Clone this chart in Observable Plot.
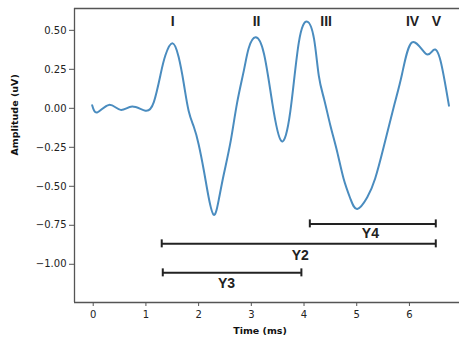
<!DOCTYPE html>
<html>
<head>
<meta charset="utf-8">
<script src="https://cdn.jsdelivr.net/npm/d3@7"></script>
<script src="https://cdn.jsdelivr.net/npm/@observablehq/plot@0.6"></script>
<style>
  html, body { margin: 0; padding: 0; background: #fff; }
  #chart svg { display: block; }
</style>
</head>
<body>
<div id="chart"></div>
<script>
// Waveform samples (time in ms, amplitude in uV)
const time = [-0.02, 0.08, 0.30, 0.52, 0.74, 0.99, 1.15, 1.28, 1.37, 1.50, 1.62, 1.72, 1.81, 1.91, 2.00, 2.10, 2.19, 2.29, 2.38, 2.48, 2.61, 2.73, 2.86, 2.95, 3.08, 3.24, 3.40, 3.57, 3.74, 3.90, 4.06, 4.19, 4.28, 4.38, 4.50, 4.63, 4.75, 4.88, 5.01, 5.20, 5.35, 5.51, 5.70, 5.86, 6.05, 6.31, 6.46, 6.59, 6.75];
const amp  = [0.02, -0.026, 0.022, -0.01, 0.011, -0.015, 0.04, 0.22, 0.34, 0.417, 0.33, 0.156, -0.015, -0.12, -0.23, -0.40, -0.57, -0.683, -0.59, -0.42, -0.207, 0.035, 0.245, 0.385, 0.455, 0.35, 0.03, -0.21, -0.02, 0.42, 0.556, 0.445, 0.21, 0.06, -0.11, -0.28, -0.45, -0.58, -0.645, -0.57, -0.45, -0.25, 0.006, 0.22, 0.423, 0.35, 0.375, 0.305, 0.017];

// Peak labels
const peakNames = ["I", "II", "III", "IV", "V"];
const peakX = [1.51, 3.10, 4.42, 6.06, 6.51];
const peakY = [0.559, 0.559, 0.559, 0.559, 0.559];

// Interval brackets
const bracketNames = ["Y4", "Y2", "Y3"];
const bracketStart = [4.11, 1.30, 1.32];
const bracketEnd = [6.50, 6.50, 3.95];
const bracketLevel = [-0.741, -0.869, -1.055];
const bracketLabelX = [5.26, 3.93, 2.53];
const bracketLabelY = [-0.805, -0.945, -1.125];

// Axis ticks
const xTicks = [0, 1, 2, 3, 4, 5, 6];
const yTicks = [0.5, 0.25, 0, -0.25, -0.5, -0.75, -1.0];
const xDomain = [-0.355, 6.95];
const yDomain = [-1.245, 0.64];

const wave = time.map((t, i) => ({t, a: amp[i]}));
const peaks = peakNames.map((n, i) => ({n, x: peakX[i], y: peakY[i]}));
const brackets = bracketNames.map((n, i) => ({n, x1: bracketStart[i], x2: bracketEnd[i], y: bracketLevel[i], lx: bracketLabelX[i], ly: bracketLabelY[i]}));
const caps = brackets.flatMap(b => [{x: b.x1, y: b.y}, {x: b.x2, y: b.y}]);

const fmt = d => d3.format(".2f")(d).replace("-", "\u2212");

const chart = Plot.plot({
  width: 459,
  height: 343,
  marginLeft: 74,
  marginRight: 0,
  marginTop: 8,
  marginBottom: 41,
  style: {fontFamily: "DejaVu Sans", fontSize: "10px", color: "#222", background: "#fff"},
  x: {domain: xDomain, ticks: xTicks, tickFormat: d => String(d), label: null},
  y: {domain: yDomain, ticks: yTicks, tickFormat: fmt, label: null},
  marks: [
    Plot.axisX({ticks: xTicks, tickFormat: d => String(d), tickSize: 4, tickPadding: 4, stroke: "#555", label: null, fontSize: 10}),
    Plot.axisY({ticks: yTicks, tickFormat: fmt, tickSize: 5, tickPadding: 3, stroke: "#555", label: null, fontSize: 10}),
    // spines
    Plot.ruleX([xDomain[0]], {stroke: "#555", strokeWidth: 1.3}),
    Plot.ruleY(yDomain, {stroke: "#555", strokeWidth: 1.3}),
    // waveform
    Plot.line(wave, {x: "t", y: "a", curve: "natural", stroke: "#4a8cbf", strokeWidth: 2}),
    // brackets
    Plot.ruleY(brackets, {y: "y", x1: "x1", x2: "x2", stroke: "#222", strokeWidth: 2}),
    Plot.ruleX(caps, {x: "x", y1: "y", y2: "y", insetTop: -4, insetBottom: -4, stroke: "#222", strokeWidth: 2}),
    Plot.text(brackets, {x: "lx", y: "ly", text: "n", fontFamily: "Liberation Sans", fontWeight: "bold", fontSize: 14, fill: "#222"}),
    // peak labels
    Plot.text(peaks, {x: "x", y: "y", text: "n", fontFamily: "Liberation Sans", fontWeight: "bold", fontSize: 14, fill: "#222"}),
    // axis labels
    Plot.text(["Time (ms)"], {frameAnchor: "bottom", dy: 31, dx: -7, text: d => d, fontFamily: "DejaVu Sans", fontWeight: "bold", fontSize: 9.5, fill: "#111"}),
    Plot.text(["Amplitude (uV)"], {frameAnchor: "left", dx: -60, rotate: -90, text: d => d, fontFamily: "DejaVu Sans", fontWeight: "bold", fontSize: 9.5, fill: "#111"})
  ]
});
document.getElementById("chart").appendChild(chart);
</script>
</body>
</html>
